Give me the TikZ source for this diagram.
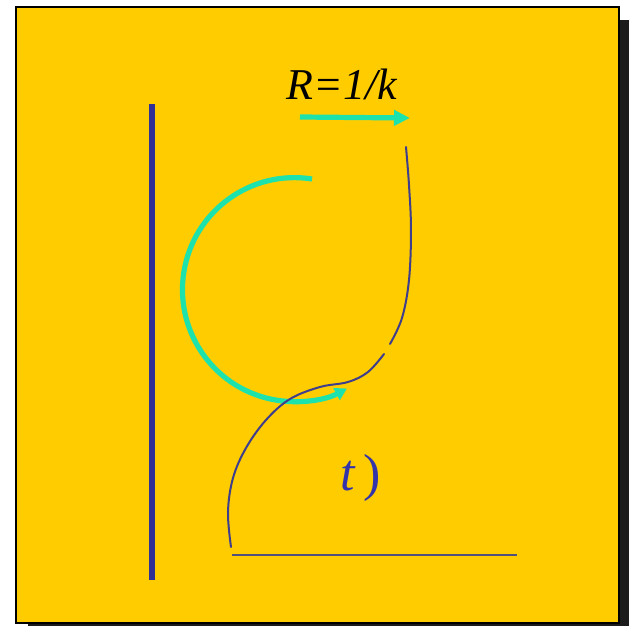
\documentclass[tikz,border=0pt]{standalone}
\usepackage{fontspec}
\setmainfont{Liberation Serif}
\usepackage{tikz}
\usetikzlibrary{arrows.meta}
\usetikzlibrary{calc}
\usetikzlibrary{positioning}
\definecolor{boardyellow}{RGB}{255,204,0}
\definecolor{boardshadow}{RGB}{28,28,28}
\definecolor{wallblue}{RGB}{48,48,150}
\definecolor{curveblue}{RGB}{62,62,140}
\definecolor{baseblue}{RGB}{80,80,125}
\definecolor{turq}{RGB}{30,226,172}
\definecolor{labelblue}{RGB}{52,52,170}

\begin{document}
\begin{tikzpicture}[x=0.5pt,y=-0.5pt,
    turqline/.style={turq,line width=2.6pt},
    thincurve/.style={curveblue,line width=1pt,line cap=round}]

      % frame
      \useasboundingbox (0,0) rectangle (629,626);
      \fill[boardshadow] (28,20) rectangle (629,626);
      \fill[boardyellow,draw=black,line width=0.8pt] (16,7) rectangle (619,623);

      % wall and floor
      \draw[wallblue,line width=2.6pt] (152,104) -- (152,580);
      \draw[baseblue,line width=1pt] (232,555) -- (517,555);

      % osculating circle
      \draw[turqline,-{Triangle[length=6pt,width=6.5pt]}] (312,179) arc[start angle=-81,end angle=-298,radius=112];

      % radius label and arrow
      \node[font=\fontsize{22}{24}\selectfont\itshape] (rlabel) at (342,84) {R=1/k};
      \draw[turqline,-{Triangle[length=8pt,width=7.5pt]}] (300,117) -- (410,118);

      % the curve
      \draw[thincurve] plot[smooth,tension=0.6] coordinates {
        (231,547) (228,512) (233,478) (246,448) (266,420) (290,399) (320,387)
        (348,382) (368,372) (384,354)};
      \draw[thincurve] plot[smooth,tension=0.6] coordinates {
        (390,344) (402,318) (409,280) (411,230) (409,185) (406,147)};

      % parameter label
      \node[font=\fontsize{26}{28}\selectfont,text=labelblue] (tlabel) at (361,478) {\itshape t\,\upshape)};

\end{tikzpicture}
\end{document}
